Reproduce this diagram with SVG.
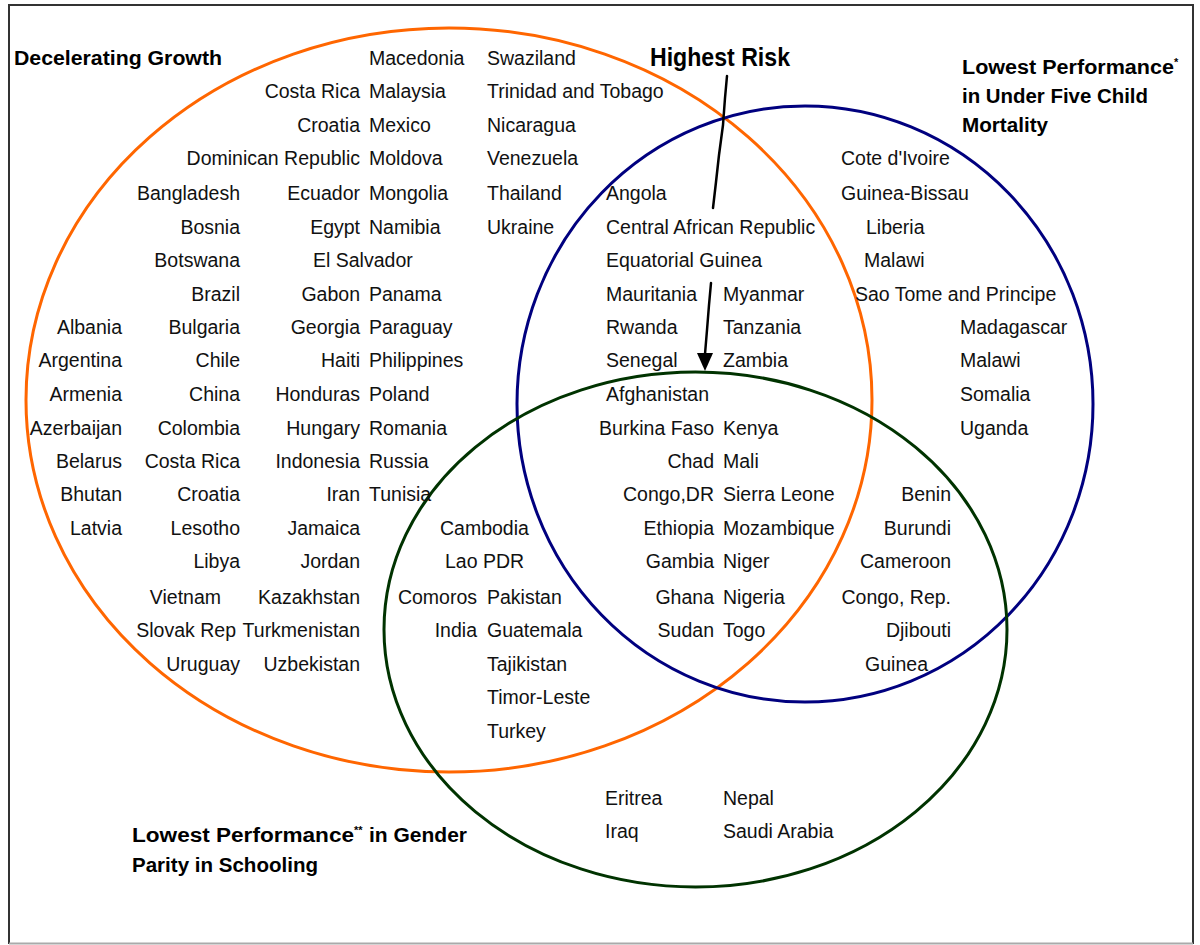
<svg xmlns="http://www.w3.org/2000/svg" width="1200" height="945" viewBox="0 0 1200 945">
<style>
.t{font-family:"Liberation Sans",Arial,sans-serif;font-size:19.5px;fill:#111}
.e{text-anchor:end}
.b{font-family:"Liberation Sans",Arial,sans-serif;font-weight:bold;font-size:20px;fill:#000}
.sup{font-size:11px}
.set{fill:none;stroke-width:3}
.con{fill:none;stroke:#000;stroke-width:2.5;stroke-linecap:round;stroke-linejoin:round}
.head{fill:#000}
</style>
<rect x="0" y="0" width="1200" height="945" fill="#fff"/>
<path d="M9,944 V5 H1193 V944" fill="none" stroke="#333" stroke-width="2"/>
<line x1="9" y1="943.5" x2="1193" y2="943.5" stroke="#aaa" stroke-width="2"/>

<g id="set-growth">
<ellipse class="set" cx="449" cy="400" rx="423" ry="372" stroke="#FF6600"/>
<text class="b" x="14" y="65" textLength="208" lengthAdjust="spacingAndGlyphs">Decelerating Growth</text>
</g>
<g id="set-mortality">
<ellipse class="set" cx="805" cy="404" rx="288" ry="298" stroke="#00007F"/>
<text class="b" x="962" y="74"><tspan textLength="212" lengthAdjust="spacingAndGlyphs">Lowest Performance</tspan><tspan class="sup" dy="-8">*</tspan></text>
<text class="b" x="962" y="103" textLength="186" lengthAdjust="spacingAndGlyphs">in Under Five Child</text>
<text class="b" x="962" y="132" textLength="86" lengthAdjust="spacingAndGlyphs">Mortality</text>
</g>
<g id="set-gender">
<ellipse class="set" cx="695.5" cy="629.5" rx="311.5" ry="257.5" stroke="#003300"/>
<text class="b" x="132" y="842"><tspan textLength="222" lengthAdjust="spacingAndGlyphs">Lowest Performance</tspan><tspan class="sup" dy="-8">**</tspan><tspan dy="8" x="369" textLength="98" lengthAdjust="spacingAndGlyphs">in Gender</tspan></text>
<text class="b" x="132" y="872" textLength="186" lengthAdjust="spacingAndGlyphs">Parity in Schooling</text>
</g>
<g id="highest-risk">
<text class="b" x="650" y="66" style="font-size:25px" textLength="140" lengthAdjust="spacingAndGlyphs">Highest Risk</text>
</g>

<g id="connectors">
<path class="con" d="M727,76 L725,98 L723,125 L719,155 L716,182 L713,208"/>
<path class="con" d="M711,283 L709,305 L707,330 L705,354"/>
<polygon class="head" points="697,353 713,353 705,371"/>
</g>

<g id="growth-only">
<text class="t e" x="122" y="334">Albania</text>
<text class="t e" x="122" y="367">Argentina</text>
<text class="t e" x="122" y="401">Armenia</text>
<text class="t e" x="122" y="435">Azerbaijan</text>
<text class="t e" x="122" y="468">Belarus</text>
<text class="t e" x="122" y="501">Bhutan</text>
<text class="t e" x="122" y="535">Latvia</text>

<text class="t e" x="240" y="200">Bangladesh</text>
<text class="t e" x="240" y="234">Bosnia</text>
<text class="t e" x="240" y="267">Botswana</text>
<text class="t e" x="240" y="301">Brazil</text>
<text class="t e" x="240" y="334">Bulgaria</text>
<text class="t e" x="240" y="367">Chile</text>
<text class="t e" x="240" y="401">China</text>
<text class="t e" x="240" y="435">Colombia</text>
<text class="t e" x="240" y="468">Costa Rica</text>
<text class="t e" x="240" y="501">Croatia</text>
<text class="t e" x="240" y="535">Lesotho</text>
<text class="t e" x="240" y="568">Libya</text>
<text class="t e" x="221" y="604">Vietnam</text>
<text class="t e" x="360" y="637">Turkmenistan</text>
<rect x="130" y="620" width="106" height="22" fill="#fff"/>
<text class="t e" x="236" y="637">Slovak Rep</text>
<text class="t e" x="240" y="671">Uruguay</text>

<text class="t e" x="360" y="98">Costa Rica</text>
<text class="t e" x="360" y="132">Croatia</text>
<text class="t e" x="360" y="165">Dominican Republic</text>
<text class="t e" x="360" y="200">Ecuador</text>
<text class="t e" x="360" y="234">Egypt</text>
<text class="t" x="313" y="267">El Salvador</text>
<text class="t e" x="360" y="301">Gabon</text>
<text class="t e" x="360" y="334">Georgia</text>
<text class="t e" x="360" y="367">Haiti</text>
<text class="t e" x="360" y="401">Honduras</text>
<text class="t e" x="360" y="435">Hungary</text>
<text class="t e" x="360" y="468">Indonesia</text>
<text class="t e" x="360" y="501">Iran</text>
<text class="t e" x="360" y="535">Jamaica</text>
<text class="t e" x="360" y="568">Jordan</text>
<text class="t e" x="360" y="604">Kazakhstan</text>
<text class="t e" x="360" y="671">Uzbekistan</text>

<text class="t" x="369" y="65">Macedonia</text>
<text class="t" x="369" y="98">Malaysia</text>
<text class="t" x="369" y="132">Mexico</text>
<text class="t" x="369" y="165">Moldova</text>
<text class="t" x="369" y="200">Mongolia</text>
<text class="t" x="369" y="234">Namibia</text>
<text class="t" x="369" y="301">Panama</text>
<text class="t" x="369" y="334">Paraguay</text>
<text class="t" x="369" y="367">Philippines</text>
<text class="t" x="369" y="401">Poland</text>
<text class="t" x="369" y="435">Romania</text>
<text class="t" x="369" y="468">Russia</text>
<text class="t" x="369" y="501">Tunisia</text>

<text class="t" x="487" y="65">Swaziland</text>
<text class="t" x="487" y="98">Trinidad and Tobago</text>
<text class="t" x="487" y="132">Nicaragua</text>
<text class="t" x="487" y="165">Venezuela</text>
<text class="t" x="487" y="200">Thailand</text>
<text class="t" x="487" y="234">Ukraine</text>
</g>

<g id="growth-gender">
<text class="t" x="440" y="535">Cambodia</text>
<text class="t" x="445" y="568">Lao PDR</text>
<text class="t e" x="477" y="604">Comoros</text>
<text class="t e" x="477" y="637">India</text>
<text class="t" x="487" y="604">Pakistan</text>
<text class="t" x="487" y="637">Guatemala</text>
<text class="t" x="487" y="671">Tajikistan</text>
<text class="t" x="487" y="704">Timor-Leste</text>
<text class="t" x="487" y="738">Turkey</text>
</g>

<g id="growth-mortality">
<text class="t" x="606" y="200">Angola</text>
<text class="t" x="606" y="234">Central African Republic</text>
<text class="t" x="606" y="267">Equatorial Guinea</text>
<text class="t" x="606" y="301">Mauritania</text>
<text class="t" x="606" y="334">Rwanda</text>
<text class="t" x="606" y="367">Senegal</text>
<text class="t" x="723" y="301">Myanmar</text>
<text class="t" x="723" y="334">Tanzania</text>
<text class="t" x="723" y="367">Zambia</text>
</g>

<g id="all-three">
<text class="t" x="606" y="401">Afghanistan</text>
<text class="t e" x="714" y="435">Burkina Faso</text>
<text class="t e" x="714" y="468">Chad</text>
<text class="t e" x="714" y="501">Congo,DR</text>
<text class="t e" x="714" y="535">Ethiopia</text>
<text class="t e" x="714" y="568">Gambia</text>
<text class="t e" x="714" y="604">Ghana</text>
<text class="t e" x="714" y="637">Sudan</text>
<text class="t" x="723" y="435">Kenya</text>
<text class="t" x="723" y="468">Mali</text>
<text class="t" x="723" y="501">Sierra Leone</text>
<text class="t" x="723" y="535">Mozambique</text>
<text class="t" x="723" y="568">Niger</text>
<text class="t" x="723" y="604">Nigeria</text>
<text class="t" x="723" y="637">Togo</text>
</g>

<g id="mortality-only">
<text class="t" x="841" y="165">Cote d'Ivoire</text>
<text class="t" x="841" y="200">Guinea-Bissau</text>
<text class="t" x="866" y="234">Liberia</text>
<text class="t" x="864" y="267">Malawi</text>
<text class="t" x="855" y="301">Sao Tome and Principe</text>
<text class="t" x="960" y="334">Madagascar</text>
<text class="t" x="960" y="367">Malawi</text>
<text class="t" x="960" y="401">Somalia</text>
<text class="t" x="960" y="435">Uganda</text>
</g>

<g id="mortality-gender">
<text class="t e" x="951" y="501">Benin</text>
<text class="t e" x="951" y="535">Burundi</text>
<text class="t e" x="951" y="568">Cameroon</text>
<text class="t e" x="951" y="604">Congo, Rep.</text>
<text class="t e" x="951" y="637">Djibouti</text>
<text class="t e" x="928" y="671">Guinea</text>
</g>

<g id="gender-only">
<text class="t" x="605" y="805">Eritrea</text>
<text class="t" x="605" y="838">Iraq</text>
<text class="t" x="723" y="805">Nepal</text>
<text class="t" x="723" y="838">Saudi Arabia</text>
</g>
</svg>
